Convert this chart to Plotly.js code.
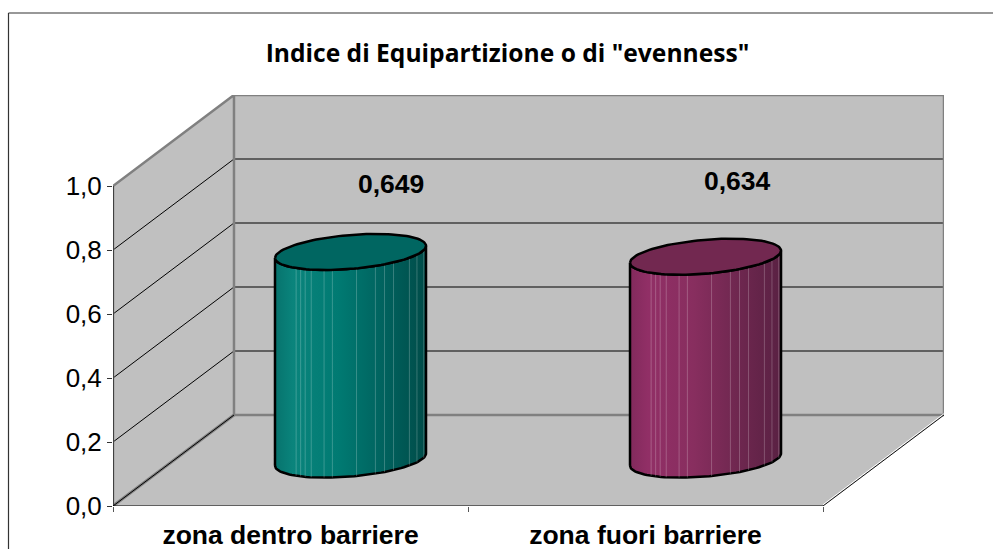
<!DOCTYPE html>
<html><head><meta charset="utf-8">
<script src="https://cdn.plot.ly/plotly-3.0.1.min.js"></script>
<style>html,body{margin:0;padding:0;background:#fff}#c{width:993px;height:549px}</style>
</head><body><div id="c"></div>
<script>
const categories = ["zona dentro barriere", "zona fuori barriere"];
const values = [0.649, 0.634];
const valueLabels = ["0,649", "0,634"];
const yTicks = [0, 0.2, 0.4, 0.6, 0.8, 1.0];
const titleText = 'Indice di Equipartizione o di "evenness"';
const scales = [
  {grad:[[0,'#07736d'],[0.12,'#0a847c'],[0.42,'#007a72'],[0.72,'#00625e'],[1,'#004c49']], top:'#006661'},
  {grad:[[0,'#822a5c'],[0.12,'#912f66'],[0.42,'#882e5f'],[0.72,'#6e274f'],[1,'#5a2143']], top:'#722850'}
];
const stripes = [-0.72,-0.66,-0.6,-0.52,-0.35,-0.24,0.08,0.33,0.45,0.57,0.78,0.88,0.97];

// oblique projection of the floor depth, in axis units
const dx = 0.3408, dy = 0.2844, xL = -0.5, xR = 1.5;
const traces = [];
function poly(x,y,fill){traces.push({x,y,mode:'lines',fill:'toself',fillcolor:fill,line:{width:0},cliponaxis:false,hoverinfo:'skip',showlegend:false});}
function line(x,y,color,width){traces.push({x,y,mode:'lines',line:{color,width},cliponaxis:false,hoverinfo:'skip',showlegend:false});}

poly([xL+dx,xR+dx,xR+dx,xL+dx,xL+dx],[dy,dy,1+dy,1+dy,dy],'#c0c0c0');
poly([xL,xL+dx,xL+dx,xL,xL],[0,dy,1+dy,1,0],'#c0c0c0');
poly([xL,xR,xR+dx,xL+dx,xL],[0,0,dy,dy,0],'#c0c0c0');
[0.2,0.4,0.6,0.8].forEach(v=>{
  line([xL+dx,xR+dx],[v+dy,v+dy],'#000000',1);
  line([xL,xL+dx],[v,v+dy],'#000000',1);
});
line([xL,xL,xL+dx,xR+dx,xR+dx,xL+dx,xL+dx],[0,1,1+dy,1+dy,dy,dy,1+dy],'#808080',2.5);
line([xL,xL+dx],[0,dy],'#808080',3);
line([xL,xL+dx],[0,dy],'#000000',1);
line([xL,xL],[0,1],'#000000',1);
line([xL,xR],[0,0],'#000000',1.2);
line([xR,xR+dx],[0.004,dy+0.004],'#ffffff',1);
line([xR,xR+dx],[0,dy],'#111111',1);

const a = 0.2127, b = 0.053, k = 0.019, z0 = 0.145, cxOff = 0.169;
const steps = [...Array(61).keys()].map(i=>i/60);
values.forEach((v,i)=>{
  const cx = i + cxOff, zt = z0 + v;
  const px = t => cx + a*Math.cos(t), py = (t,z) => z + b*Math.sin(t) + k*Math.cos(t);
  const frontT = steps.map(s=>Math.PI + s*Math.PI), backT = steps.map(s=>s*Math.PI);
  const bx = frontT.map(px).concat(frontT.slice().reverse().map(px));
  const by = frontT.map(t=>py(t,z0)).concat(frontT.slice().reverse().map(t=>py(t,zt)));
  bx.push(bx[0]); by.push(by[0]);
  traces.push({x:bx,y:by,mode:'lines',fill:'toself',fillgradient:{type:'horizontal',colorscale:scales[i].grad},
    line:{color:'#000000',width:2.5},cliponaxis:false,hoverinfo:'skip',showlegend:false});
  const sx=[],sy=[];
  stripes.forEach(u=>{
    const t = 2*Math.PI - Math.acos(u);
    sx.push(px(t),px(t),null); sy.push(py(t,z0),py(t,zt),null);
  });
  traces.push({x:sx,y:sy,mode:'lines',line:{color:'rgba(255,255,255,0.22)',width:1},cliponaxis:false,hoverinfo:'skip',showlegend:false,connectgaps:false});
  const ell = frontT.concat(backT);
  traces.push({x:ell.map(px),y:ell.map(t=>py(t,zt)),mode:'lines',fill:'toself',fillcolor:scales[i].top,
    line:{color:'#000000',width:2.5},cliponaxis:false,hoverinfo:'skip',showlegend:false});
});

const labelAt = [[0.283,1.006],[1.26,1.016]];
const layout = {
  width:993,height:549,paper_bgcolor:'#ffffff',plot_bgcolor:'rgba(0,0,0,0)',separators:', ',
  margin:{l:113,r:49,t:95,b:43,pad:0},showlegend:false,
  title:{text:'<b>'+titleText+'</b>',x:507.5/993,xanchor:'center',y:1-53/549,yanchor:'middle',
    font:{family:'Open Sans',size:24.6,color:'#000'}},
  xaxis:{type:'linear',range:[xL,xR+dx],tickmode:'array',tickvals:[0,1],
    ticktext:categories.map(c=>'<b>'+c+'</b>'),ticks:'',showgrid:false,zeroline:false,
    showline:false,ticklabelstandoff:10,
    minor:{tickmode:'array',tickvals:[xL,0.5,xR],ticks:'outside',ticklen:5,tickcolor:'#555',tickwidth:1,showgrid:false},
    tickfont:{family:'Liberation Sans',size:26.5,color:'#000'}},
  yaxis:{type:'linear',range:[0,1+dy],tickmode:'array',tickvals:yTicks,tickformat:'.1f',ticks:'outside',ticklen:5,
    tickcolor:'#333',tickwidth:1,showgrid:false,zeroline:false,showline:false,
    tickfont:{family:'Liberation Sans',size:26,color:'#000'}},
  annotations:valueLabels.map((t,i)=>({x:labelAt[i][0],y:labelAt[i][1],xref:'x',yref:'y',text:'<b>'+t+'</b>',showarrow:false,
    xanchor:'center',yanchor:'middle',font:{family:'Liberation Sans',size:26.5,color:'#000'}}))
};
// outer chart frame: only its top and left edges fall inside the picture
const px2x = p => (p-113)/831, px2y = p => (506-p)/411;
layout.shapes = [
  {type:'line',xref:'paper',yref:'paper',x0:px2x(8.5),x1:px2x(993),y0:px2y(13),y1:px2y(13),line:{color:'#333',width:1.2}},
  {type:'line',xref:'paper',yref:'paper',x0:px2x(8.5),x1:px2x(8.5),y0:px2y(13),y1:px2y(549),line:{color:'#333',width:1.2}}
];
Plotly.newPlot('c',traces,layout,{displayModeBar:false,staticPlot:true});
</script></body></html>
